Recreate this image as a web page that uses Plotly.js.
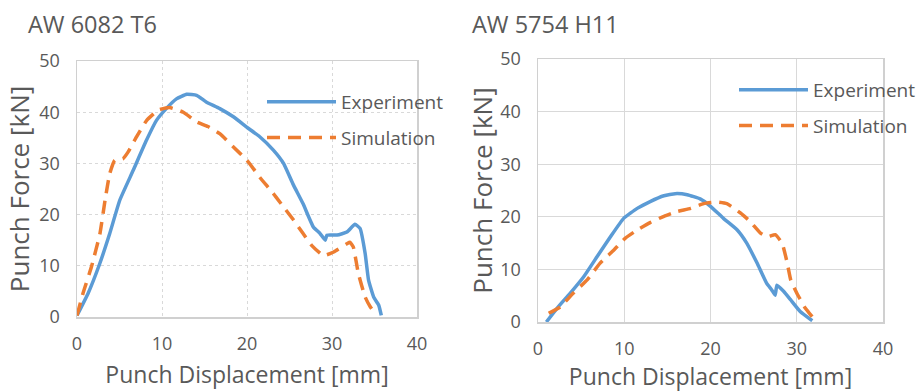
<!DOCTYPE html>
<html>
<head>
<meta charset="utf-8">
<script src="https://cdn.plot.ly/plotly-3.0.1.min.js"></script>
<style>html,body{margin:0;padding:0;background:#fff;}#chart{width:917px;height:392px;}</style>
</head>
<body>
<div id="chart"></div>
<script>
// AW 6082 T6
const expA_x = [0, 1.3, 2.67, 3.85, 5.03, 6.6, 8.17, 9.35, 10.5, 11.7, 12.9, 14.07, 15.2, 16.8, 18.4, 19.96, 21.5, 23.1, 24.3, 25.4, 26.6, 27.8, 28.6, 29.2, 29.4, 30.6, 31.75, 32.7, 33.3, 33.9, 34.3, 34.9, 35.5, 35.8];
const expA_y = [0.3, 4.6, 10.4, 16.3, 22.8, 28.6, 34.5, 38.4, 40.7, 42.6, 43.5, 43.3, 42.0, 40.7, 39.1, 37.1, 35.2, 32.6, 30.0, 26.0, 22.1, 17.6, 16.3, 15.0, 16.0, 16.0, 16.6, 18.1, 17.3, 12.4, 7.2, 3.9, 2.3, 0.3];
const simA_x = [0, 0.7, 1.7, 2.7, 3.3, 3.85, 4.44, 5.4, 6.0, 7.0, 8.2, 9.55, 10.9, 12.5, 14.1, 15.4, 16.8, 18.4, 20.0, 21.5, 23.1, 24.3, 25.5, 26.6, 27.6, 29.0, 30.2, 31.75, 32.1, 32.5, 33.1, 33.9, 34.5, 35.1];
const simA_y = [0.3, 4.6, 9.8, 16.3, 22.8, 28.0, 30.6, 30.9, 32.2, 35.2, 38.4, 40.4, 40.9, 40.0, 38.1, 37.2, 35.8, 33.2, 30.6, 27.3, 24.1, 21.5, 18.9, 16.3, 14.0, 12.0, 12.7, 14.3, 14.6, 13.7, 8.5, 3.9, 2.0, 0.65];
// AW 5754 H11
const expB_x = [0.97, 2.2, 3.75, 5.3, 6.84, 8.4, 9.93, 11.5, 13.0, 14.6, 15.9, 17.3, 18.8, 20.0, 21.5, 23.1, 24.2, 25.4, 26.5, 27.1, 27.5, 27.7, 28.5, 29.3, 30.4, 31.8];
const expB_y = [0, 2.6, 5.5, 8.6, 12.4, 16.2, 19.7, 21.6, 22.9, 24.0, 24.4, 24.2, 23.4, 22.0, 19.7, 17.5, 15.0, 11.2, 7.4, 6.1, 5.1, 7.0, 5.8, 4.2, 2.0, 0.25];
const simB_x = [1.24, 2.6, 4.1, 5.7, 7.2, 8.8, 10.1, 11.5, 13.0, 14.6, 16.1, 17.7, 19.2, 20.75, 21.9, 23.5, 24.6, 25.8, 26.55, 27.5, 28.3, 28.9, 29.3, 30.0, 31.0, 31.8, 32.15];
const simB_y = [1.65, 2.9, 5.5, 8.0, 11.2, 13.7, 15.9, 17.5, 18.9, 20.1, 21.0, 21.6, 22.5, 22.8, 22.5, 20.7, 19.1, 16.9, 16.2, 16.6, 15.0, 11.2, 8.0, 5.5, 2.6, 1.0, 0];

const titles = ["AW 6082 T6", "AW 5754 H11"];
const seriesNames = ["Experiment", "Simulation"];
const xTitle = "Punch Displacement [mm]";
const yTitle = "Punch Force [kN]";

const blue = "#5B9BD5", orange = "#ED7D31", txt = "#595959";
const FONT = "Open Sans";

const traces = [
  {x: expA_x, y: expA_y, name: seriesNames[0], xaxis: "x", yaxis: "y", mode: "lines", line: {color: blue, width: 3.5, shape: "spline", smoothing: 0.4}, legend: "legend", legendgroup: "a1"},
  {x: simA_x, y: simA_y, name: seriesNames[1], xaxis: "x", yaxis: "y", mode: "lines", line: {color: orange, width: 3.5, dash: "13px,8px", shape: "spline", smoothing: 0.4}, legend: "legend", legendgroup: "a2"},
  {x: expB_x, y: expB_y, name: seriesNames[0], xaxis: "x2", yaxis: "y2", mode: "lines", line: {color: blue, width: 3.5, shape: "spline", smoothing: 0.4}, legend: "legend2", legendgroup: "b1"},
  {x: simB_x, y: simB_y, name: seriesNames[1], xaxis: "x2", yaxis: "y2", mode: "lines", line: {color: orange, width: 3.5, dash: "13px,8px", shape: "spline", smoothing: 0.4}, legend: "legend2", legendgroup: "b2"}
];

function xa(domain, anchor, griddash) {
  return {domain: domain, anchor: anchor, range: [0, 40], dtick: 10, tick0: 0,
    showgrid: true, gridcolor: "#D9D9D9", griddash: griddash, gridwidth: 1,
    showline: true, linecolor: "#D0D0D0", linewidth: 1.5, mirror: true, zeroline: false,
    ticks: "", ticklabelstandoff: 10, tickfont: {family: FONT, size: 18, color: txt},
    title: {text: xTitle, font: {family: FONT, size: 23, color: txt}, standoff: 13}, fixedrange: true};
}
function ya(domain, anchor, griddash, standoff) {
  return {domain: domain, anchor: anchor, range: [0, 50], dtick: 10, tick0: 0,
    showgrid: true, gridcolor: "#D9D9D9", griddash: griddash, gridwidth: 1,
    showline: true, linecolor: "#D0D0D0", linewidth: 1.5, mirror: true, zeroline: false,
    ticks: "", ticklabelstandoff: 12, tickfont: {family: FONT, size: 18, color: txt},
    title: {text: yTitle, font: {family: FONT, size: 26, color: txt}, standoff: standoff}, fixedrange: true};
}

const legendBase = {xanchor: "left", yanchor: "top", bgcolor: "rgba(0,0,0,0)",
  font: {family: FONT, size: 19, color: txt}, itemwidth: 69, traceorder: "grouped", tracegroupgap: 8};

const layout = {
  width: 917, height: 392,
  margin: {l: 0, r: 0, t: 0, b: 0, autoexpand: false},
  paper_bgcolor: "#fff", plot_bgcolor: "#fff",
  font: {family: FONT, color: txt},
  xaxis: xa([77/917, 417/917], "y", "dot"),
  yaxis: ya([1 - 317/392, 1 - 61/392], "x", "dot", 2),
  xaxis2: xa([538/917, 883/917], "y2", "solid"),
  yaxis2: ya([1 - 322/392, 1 - 59/392], "x2", "solid", 0),
  legend: Object.assign({}, legendBase, {x: 262/917, y: 1 - 83/392}),
  legend2: Object.assign({}, legendBase, {x: 734/917, y: 1 - 71/392}),
  showlegend: true,
  annotations: [
    {text: titles[0], xref: "paper", yref: "paper", x: 26/917, y: 1 - 24/392, xanchor: "left", yanchor: "middle", showarrow: false, font: {family: FONT, size: 23.5, color: txt}},
    {text: titles[1], xref: "paper", yref: "paper", x: 470/917, y: 1 - 24/392, xanchor: "left", yanchor: "middle", showarrow: false, font: {family: FONT, size: 23.5, color: txt}}
  ]
};

Plotly.newPlot("chart", traces, layout, {staticPlot: true, displayModeBar: false});
</script>
</body>
</html>
